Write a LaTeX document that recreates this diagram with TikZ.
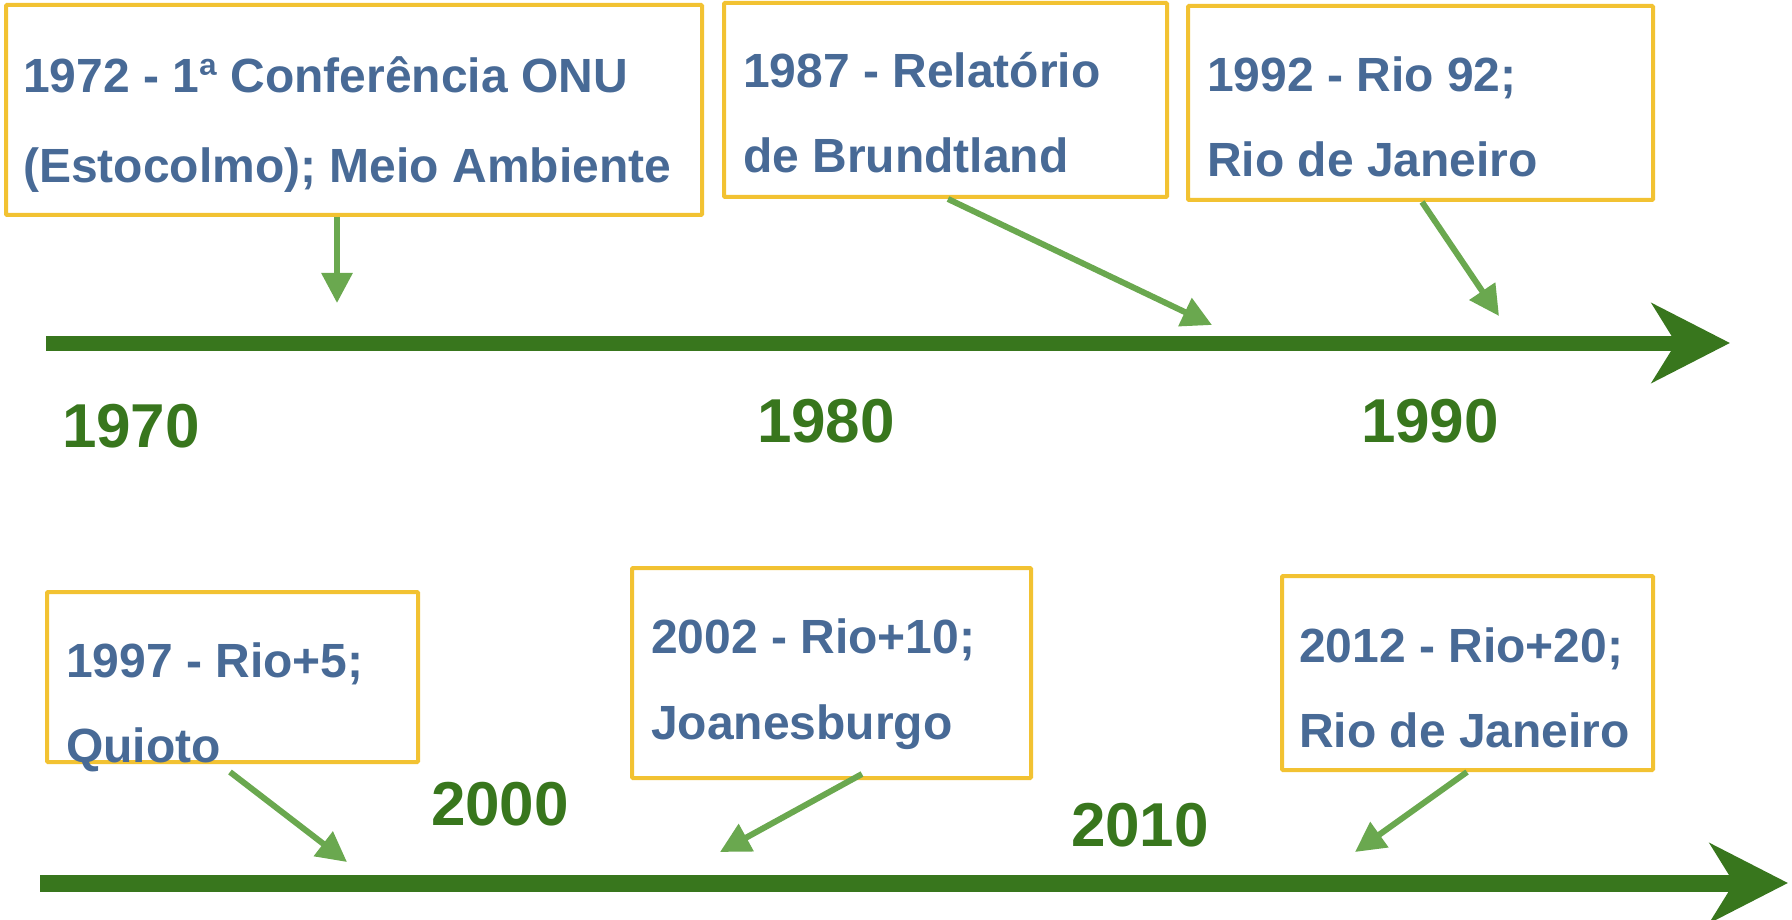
\documentclass[tikz,border=0pt]{standalone}
\usepackage{fontspec}
\setmainfont{Liberation Sans}
\usetikzlibrary{arrows.meta}
\definecolor{txtblue}{RGB}{72,106,150}
\definecolor{boxyellow}{RGB}{242,194,50}
\definecolor{lightgreen}{RGB}{106,168,79}
\definecolor{darkgreen}{RGB}{56,118,29}
\tikzset{
  evbox/.style={draw=boxyellow, line width=4pt, rectangle, inner sep=0pt, rounded corners=1pt},
  evtext/.style={anchor=base west, inner sep=0pt, text=txtblue, font=\fontsize{48}{58}\selectfont\bfseries},
  yeartext/.style={anchor=base, inner sep=0pt, text=darkgreen, font=\fontsize{62}{70}\selectfont\bfseries},
  pointer/.style={draw=lightgreen, line width=6pt, -{Triangle[length=30pt,width=30pt]}},
  timeline/.style={draw=darkgreen, -{Stealth[length=78pt,width=79pt,inset=24pt]}},
}
\begin{document}
\begin{tikzpicture}[x=1pt,y=-1pt]
\useasboundingbox (0,0) rectangle (1792,920);
% boxes
\node[evbox, minimum width=696pt, minimum height=210pt] (box1) at (354,110) {};
\node[evbox, minimum width=443pt, minimum height=194pt] (box2) at (945.5,100) {};
\node[evbox, minimum width=465pt, minimum height=194pt] (box3) at (1420.5,103) {};
\node[evbox, minimum width=371pt, minimum height=170pt] (box4) at (232.5,677) {};
\node[evbox, minimum width=399pt, minimum height=210pt] (box5) at (831.5,673) {};
\node[evbox, minimum width=371pt, minimum height=194pt] (box6) at (1467.5,673) {};
% texts
\node[evtext] (t1a) at (23,93) {1972 - 1ª Conferência ONU};
\node[evtext] (t1b) at (23,183) {(Estocolmo); Meio Ambiente};
\node[evtext] (t2a) at (743,88) {1987 - Relatório};
\node[evtext] (t2b) at (743,173) {de Brundtland};
\node[evtext] (t3a) at (1207,92) {1992 - Rio 92;};
\node[evtext] (t3b) at (1207,177) {Rio de Janeiro};
\node[evtext] (t4a) at (66,677) {1997 - Rio+5;};
\node[evtext] (t4b) at (66,762) {Quioto};
\node[evtext] (t5a) at (651,653) {2002 - Rio+10;};
\node[evtext] (t5b) at (651,739) {Joanesburgo};
\node[evtext] (t6a) at (1299,662) {2012 - Rio+20;};
\node[evtext] (t6b) at (1299,747) {Rio de Janeiro};
% years
\node[yeartext] (y1970) at (131,447) {1970};
\node[yeartext] (y1980) at (826,442) {1980};
\node[yeartext] (y1990) at (1430,442) {1990};
\node[yeartext] (y2000) at (500,825) {2000};
\node[yeartext] (y2010) at (1140,846) {2010};
% timelines
\coordinate (l1s) at (46,343);
\coordinate (l1e) at (1730,343);
\coordinate (l2s) at (40,883);
\coordinate (l2e) at (1788,883);
\draw[timeline, line width=15pt] (l1s) -- (l1e);
\draw[timeline, line width=17pt] (l2s) -- (l2e);
% pointer tips
\coordinate (p1) at (337,303);
\coordinate (p2) at (1212,325);
\coordinate (p3) at (1499,316);
\coordinate (p4) at (347,862);
\coordinate (p5) at (720,852);
\coordinate (p6) at (1355,852);
\draw[pointer] ([xshift=-17pt]box1.south) -- (p1);
\draw[pointer] ([xshift=2.5pt]box2.south) -- (p2);
\draw[pointer] ([xshift=1.5pt]box3.south) -- (p3);
\draw[pointer] ([xshift=-2.5pt,yshift=-8pt]box4.south) -- (p4);
\draw[pointer] ([xshift=30.5pt,yshift=6pt]box5.south) -- (p5);
\draw[pointer] ([xshift=-0.5pt]box6.south) -- (p6);
\end{tikzpicture}
\end{document}
